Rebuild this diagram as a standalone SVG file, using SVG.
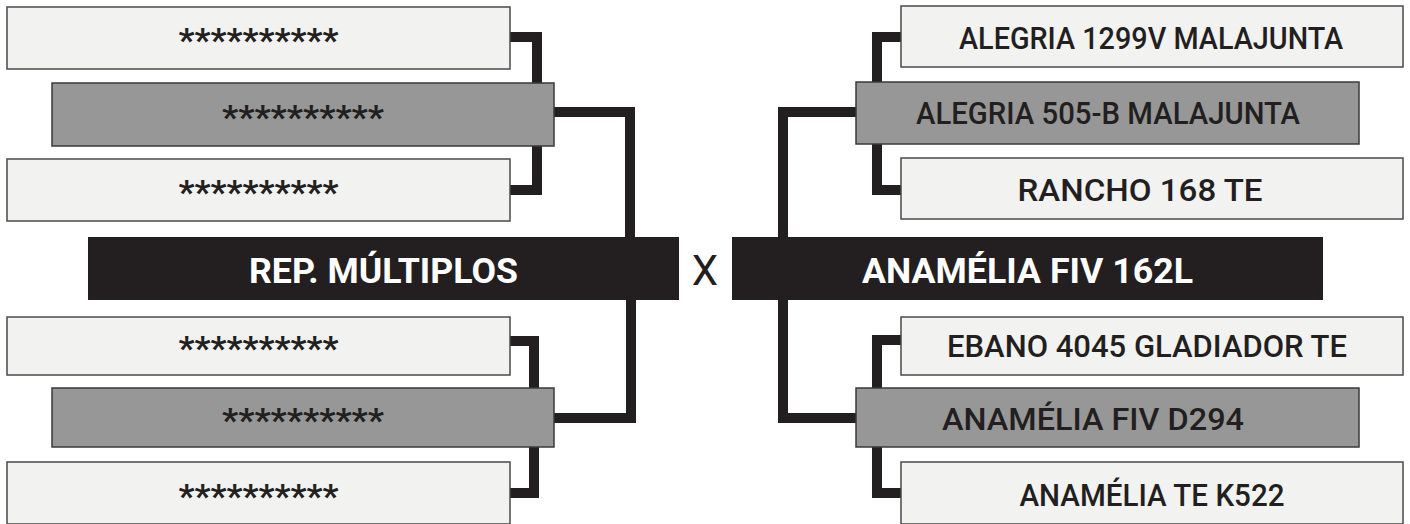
<svg xmlns="http://www.w3.org/2000/svg" width="1410" height="524" viewBox="0 0 1410 524">
<style>
.lt{fill:#f2f2f1;stroke:#4a4a4a;stroke-width:1.5}
.gr{fill:#979797;stroke:#3a3a3a;stroke-width:1.5}
.bk{fill:#231f20}
.c{fill:none;stroke:#231f20;stroke-width:10;stroke-linejoin:miter;stroke-linecap:butt}
.t{font-family:Roboto,"Liberation Sans",sans-serif;font-weight:500;font-size:32px;fill:#231f20;text-anchor:middle}
.a{font-family:Roboto,"Liberation Sans",sans-serif;font-weight:700;font-size:33px;fill:#231f20;text-anchor:middle}
.w{font-family:Roboto,"Liberation Sans",sans-serif;font-weight:700;font-size:35px;fill:#ffffff;text-anchor:middle}
.x{font-family:Roboto,"Liberation Sans",sans-serif;font-weight:400;font-size:42px;fill:#231f20;text-anchor:middle}
</style>
<rect width="1410" height="524" fill="#ffffff"/>
<g id="connectors">
<path class="c" d="M510,37 H537 V83"/>
<path class="c" d="M537,146 V190 H510"/>
<path class="c" d="M554,112 H630 V237"/>
<path class="c" d="M510,341 H534 V388"/>
<path class="c" d="M534,447 V493 H510"/>
<path class="c" d="M554,418 H631 V300"/>
<path class="c" d="M901,37 H877 V82"/>
<path class="c" d="M877,144 V190 H901"/>
<path class="c" d="M856,112 H783 V237"/>
<path class="c" d="M901,340 H877 V388"/>
<path class="c" d="M877,447 V493 H901"/>
<path class="c" d="M856,418 H783 V300"/>
</g>
<g id="l1"><rect class="lt" x="7" y="7" width="503" height="62"/><text class="a" x="258.5" y="52" textLength="160" lengthAdjust="spacingAndGlyphs">**********</text></g>
<g id="l2"><rect class="gr" x="52" y="83" width="502" height="63"/><text class="a" x="303" y="129" textLength="162" lengthAdjust="spacingAndGlyphs">**********</text></g>
<g id="l3"><rect class="lt" x="7" y="159" width="503" height="62"/><text class="a" x="258.5" y="204" textLength="160" lengthAdjust="spacingAndGlyphs">**********</text></g>
<g id="l4"><rect class="lt" x="7" y="317" width="503" height="58"/><text class="a" x="258.5" y="360" textLength="160" lengthAdjust="spacingAndGlyphs">**********</text></g>
<g id="l5"><rect class="gr" x="52" y="388" width="502" height="59"/><text class="a" x="303" y="432" textLength="162" lengthAdjust="spacingAndGlyphs">**********</text></g>
<g id="l6"><rect class="lt" x="7" y="462" width="503" height="62"/><text class="a" x="258.5" y="508" textLength="160" lengthAdjust="spacingAndGlyphs">**********</text></g>
<g id="left-main"><rect class="bk" x="88" y="237" width="591" height="63"/><text class="w" x="383.5" y="283" textLength="269" lengthAdjust="spacingAndGlyphs">REP. MÚLTIPLOS</text></g>
<g id="vs"><text class="x" x="705" y="285">X</text></g>
<g id="right-main"><rect class="bk" x="732" y="237" width="591" height="63"/><text class="w" x="1027.5" y="283" textLength="331" lengthAdjust="spacingAndGlyphs">ANAMÉLIA FIV 162L</text></g>
<g id="r1"><rect class="lt" x="901" y="6" width="502" height="61"/><text class="t" x="1151" y="49" textLength="384" lengthAdjust="spacingAndGlyphs">ALEGRIA 1299V MALAJUNTA</text></g>
<g id="r2"><rect class="gr" x="856" y="82" width="503" height="62"/><text class="t" x="1108" y="124" textLength="384" lengthAdjust="spacingAndGlyphs">ALEGRIA 505-B MALAJUNTA</text></g>
<g id="r3"><rect class="lt" x="901" y="158" width="502" height="61"/><text class="t" x="1140" y="201" textLength="245" lengthAdjust="spacingAndGlyphs">RANCHO 168 TE</text></g>
<g id="r4"><rect class="lt" x="901" y="317" width="502" height="58"/><text class="t" x="1147" y="357" textLength="400" lengthAdjust="spacingAndGlyphs">EBANO 4045 GLADIADOR TE</text></g>
<g id="r5"><rect class="gr" x="856" y="388" width="503" height="59"/><text class="t" x="1093" y="430" textLength="302" lengthAdjust="spacingAndGlyphs">ANAMÉLIA FIV D294</text></g>
<g id="r6"><rect class="lt" x="901" y="462" width="502" height="62"/><text class="t" x="1152" y="506" textLength="265" lengthAdjust="spacingAndGlyphs">ANAMÉLIA TE K522</text></g>
</svg>
